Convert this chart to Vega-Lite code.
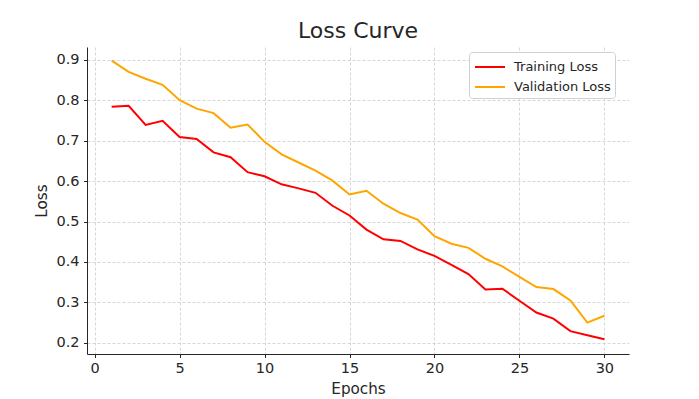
{
  "$schema": "https://vega.github.io/schema/vega-lite/v6.json",
  "width": 542,
  "height": 307,
  "autosize": {"type": "none"},
  "padding": {"left": 87, "top": 47, "right": 70, "bottom": 45},
  "background": "white",
  "title": {
    "text": "Loss Curve",
    "font": "DejaVu Sans",
    "fontSize": 22,
    "fontWeight": "normal",
    "color": "#262626",
    "anchor": "middle",
    "baseline": "alphabetic",
    "offset": 7,
    "dy": 20
  },
  "config": {
    "view": {"stroke": null},
    "axis": {
      "labelFont": "DejaVu Sans",
      "titleFont": "DejaVu Sans",
      "labelFontSize": 14.5,
      "titleFontSize": 15.2,
      "titleFontWeight": "normal",
      "labelColor": "#262626",
      "titleColor": "#262626",
      "domainColor": "#262626",
      "domainWidth": 1,
      "tickColor": "#262626",
      "tickSize": 3.5,
      "tickWidth": 1,
      "gridColor": "#cccccc",
      "gridDash": [3, 2],
      "gridWidth": 0.8
    },
    "legend": {
      "labelFont": "DejaVu Sans",
      "labelFontSize": 13,
      "labelColor": "#262626"
    }
  },
  "data": {
    "values": [
      {"epoch": 1, "series": "Training Loss", "loss": 0.784},
      {"epoch": 2, "series": "Training Loss", "loss": 0.786},
      {"epoch": 3, "series": "Training Loss", "loss": 0.739},
      {"epoch": 4, "series": "Training Loss", "loss": 0.749},
      {"epoch": 5, "series": "Training Loss", "loss": 0.709},
      {"epoch": 6, "series": "Training Loss", "loss": 0.704},
      {"epoch": 7, "series": "Training Loss", "loss": 0.671},
      {"epoch": 8, "series": "Training Loss", "loss": 0.659},
      {"epoch": 9, "series": "Training Loss", "loss": 0.622},
      {"epoch": 10, "series": "Training Loss", "loss": 0.612},
      {"epoch": 11, "series": "Training Loss", "loss": 0.592},
      {"epoch": 12, "series": "Training Loss", "loss": 0.582},
      {"epoch": 13, "series": "Training Loss", "loss": 0.571},
      {"epoch": 14, "series": "Training Loss", "loss": 0.539},
      {"epoch": 15, "series": "Training Loss", "loss": 0.515},
      {"epoch": 16, "series": "Training Loss", "loss": 0.480},
      {"epoch": 17, "series": "Training Loss", "loss": 0.456},
      {"epoch": 18, "series": "Training Loss", "loss": 0.452},
      {"epoch": 19, "series": "Training Loss", "loss": 0.431},
      {"epoch": 20, "series": "Training Loss", "loss": 0.415},
      {"epoch": 21, "series": "Training Loss", "loss": 0.393},
      {"epoch": 22, "series": "Training Loss", "loss": 0.370},
      {"epoch": 23, "series": "Training Loss", "loss": 0.332},
      {"epoch": 24, "series": "Training Loss", "loss": 0.334},
      {"epoch": 25, "series": "Training Loss", "loss": 0.304},
      {"epoch": 26, "series": "Training Loss", "loss": 0.275},
      {"epoch": 27, "series": "Training Loss", "loss": 0.260},
      {"epoch": 28, "series": "Training Loss", "loss": 0.229},
      {"epoch": 29, "series": "Training Loss", "loss": 0.219},
      {"epoch": 30, "series": "Training Loss", "loss": 0.209},
      {"epoch": 1, "series": "Validation Loss", "loss": 0.898},
      {"epoch": 2, "series": "Validation Loss", "loss": 0.870},
      {"epoch": 3, "series": "Validation Loss", "loss": 0.853},
      {"epoch": 4, "series": "Validation Loss", "loss": 0.838},
      {"epoch": 5, "series": "Validation Loss", "loss": 0.800},
      {"epoch": 6, "series": "Validation Loss", "loss": 0.779},
      {"epoch": 7, "series": "Validation Loss", "loss": 0.768},
      {"epoch": 8, "series": "Validation Loss", "loss": 0.732},
      {"epoch": 9, "series": "Validation Loss", "loss": 0.740},
      {"epoch": 10, "series": "Validation Loss", "loss": 0.697},
      {"epoch": 11, "series": "Validation Loss", "loss": 0.666},
      {"epoch": 12, "series": "Validation Loss", "loss": 0.646},
      {"epoch": 13, "series": "Validation Loss", "loss": 0.626},
      {"epoch": 14, "series": "Validation Loss", "loss": 0.601},
      {"epoch": 15, "series": "Validation Loss", "loss": 0.567},
      {"epoch": 16, "series": "Validation Loss", "loss": 0.576},
      {"epoch": 17, "series": "Validation Loss", "loss": 0.544},
      {"epoch": 18, "series": "Validation Loss", "loss": 0.521},
      {"epoch": 19, "series": "Validation Loss", "loss": 0.505},
      {"epoch": 20, "series": "Validation Loss", "loss": 0.464},
      {"epoch": 21, "series": "Validation Loss", "loss": 0.445},
      {"epoch": 22, "series": "Validation Loss", "loss": 0.435},
      {"epoch": 23, "series": "Validation Loss", "loss": 0.408},
      {"epoch": 24, "series": "Validation Loss", "loss": 0.389},
      {"epoch": 25, "series": "Validation Loss", "loss": 0.363},
      {"epoch": 26, "series": "Validation Loss", "loss": 0.338},
      {"epoch": 27, "series": "Validation Loss", "loss": 0.333},
      {"epoch": 28, "series": "Validation Loss", "loss": 0.305},
      {"epoch": 29, "series": "Validation Loss", "loss": 0.250},
      {"epoch": 30, "series": "Validation Loss", "loss": 0.267}
    ]
  },
  "mark": {"type": "line", "strokeWidth": 2},
  "encoding": {
    "x": {
      "field": "epoch",
      "type": "quantitative",
      "title": "Epochs",
      "scale": {"domain": [-0.45, 31.45], "nice": false, "zero": false},
      "axis": {"values": [0, 5, 10, 15, 20, 25, 30], "labelPadding": 4, "titlePadding": 6, "labelFlush": false}
    },
    "y": {
      "field": "loss",
      "type": "quantitative",
      "title": "Loss",
      "scale": {"domain": [0.1725, 0.9315], "nice": false, "zero": false},
      "axis": {"values": [0.2, 0.3, 0.4, 0.5, 0.6, 0.7, 0.8, 0.9], "format": ".1f", "labelPadding": 4.5, "titlePadding": 6, "labelFlush": false}
    },
    "color": {
      "field": "series",
      "type": "nominal",
      "scale": {"domain": ["Training Loss", "Validation Loss"], "range": ["red", "orange"]},
      "legend": {
        "title": null,
        "orient": "none",
        "legendX": 382,
        "legendY": 5,
        "symbolType": "M-0.9,0H2.1",
        "symbolSize": 400,
        "symbolStrokeWidth": 2,
        "labelOffset": 19,
        "rowPadding": 2,
        "padding": 4,
        "strokeColor": "#d0d0d0",
        "fillColor": "white",
        "cornerRadius": 3
      }
    }
  }
}
